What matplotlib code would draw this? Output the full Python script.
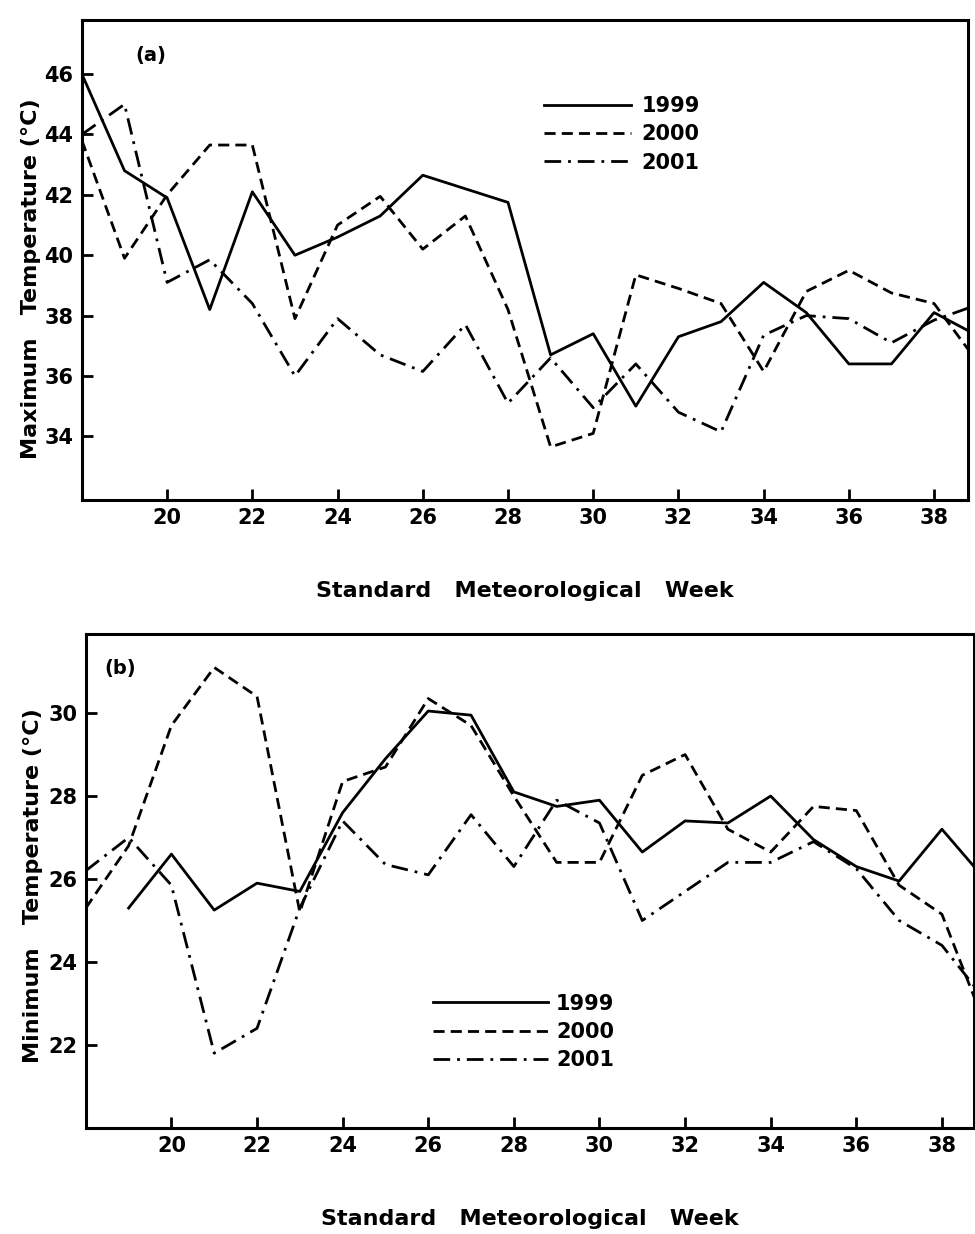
import matplotlib.pyplot as plt

weeks = list(range(18, 40))

# (a) maximum temperature
tmax_1999 = [46.0, 42.8, 41.9, 38.2, 42.1, 40.0, 40.6, 41.3, 42.65, 42.2, 41.75,
             36.7, 37.4, 35.0, 37.3, 37.8, 39.1, 38.1, 36.4, 36.4, 38.1, 37.35]
tmax_2000 = [43.8, 39.9, 42.0, 43.65, 43.65, 37.9, 41.0, 41.95, 40.2, 41.3, 38.2,
             33.65, 34.1, 39.35, 38.9, 38.4, 36.15, 38.8, 39.5, 38.75, 38.4, 36.5]
tmax_2001 = [44.0, 45.0, 39.1, 39.85, 38.4, 36.0, 37.9, 36.7, 36.15, 37.7, 35.1,
             36.6, 34.95, 36.4, 34.8, 34.15, 37.35, 38.0, 37.9, 37.1, 37.85, 38.35]

# (b) minimum temperature (1999 starts at week 19)
weeks_1999b = list(range(19, 40))
tmin_1999 = [25.3, 26.6, 25.25, 25.9, 25.7, 27.6, 28.9, 30.05, 29.95, 28.1,
             27.75, 27.9, 26.65, 27.4, 27.35, 28.0, 26.95, 26.3, 25.95, 27.2, 26.0]
tmin_2000 = [25.3, 26.8, 29.7, 31.1, 30.4, 25.2, 28.35, 28.7, 30.35, 29.7, 28.0,
             26.4, 26.4, 28.5, 29.0, 27.2, 26.65, 27.75, 27.65, 25.85, 25.15, 22.5]
tmin_2001 = [26.2, 27.0, 25.85, 21.8, 22.4, 25.3, 27.4, 26.35, 26.1, 27.55, 26.3,
             27.9, 27.35, 25.0, 25.7, 26.4, 26.4, 26.9, 26.25, 25.0, 24.4, 23.1]

years = ['1999', '2000', '2001']
styles = ['-', (0, (4, 2.2)), (0, (6, 2.5, 1, 2.5))]

plt.rcParams['font.family'] = 'DejaVu Sans'
plt.rcParams['font.weight'] = 'bold'

fig = plt.figure(figsize=(9.75, 12.34), dpi=100)
ax1 = fig.add_axes([0.084, 0.595, 0.909, 0.389])
ax2 = fig.add_axes([0.088, 0.086, 0.911, 0.400])

def style_axes(ax):
    for s in ax.spines.values():
        s.set_linewidth(2.2)
    ax.tick_params(direction='in', length=8, width=2, labelsize=15, pad=6)
    ax.set_xticks(range(20, 39, 2))
    ax.set_xlabel('Standard   Meteorological   Week', fontsize=16, fontweight='bold', labelpad=38)

lw = 2.0
h = []
for data, ls, yr in zip([tmax_1999, tmax_2000, tmax_2001], styles, years):
    line, = ax1.plot(weeks, data, color='black', linestyle=ls, linewidth=lw, label=yr)
    h.append(line)
ax1.set_xlim(18, 38.8)
ax1.set_ylim(31.9, 47.8)
ax1.set_yticks(range(34, 47, 2))
ax1.set_ylabel('Maximum   Temperature (°C)', fontsize=16, fontweight='bold')
style_axes(ax1)
ax1.yaxis.set_label_coords(-0.046, 0.46)
ax1.text(0.06, 0.925, '(a)', transform=ax1.transAxes, fontsize=14, fontweight='bold', va='center')
ax1.legend(handles=h, loc='upper left', bbox_to_anchor=(0.5, 0.88), frameon=False,
           fontsize=15, handlelength=4.2, handletextpad=0.5, labelspacing=0.4)

ax2.plot(weeks_1999b, tmin_1999, color='black', linestyle=styles[0], linewidth=lw, label=years[0])
ax2.plot(weeks, tmin_2000, color='black', linestyle=styles[1], linewidth=lw, label=years[1])
ax2.plot(weeks, tmin_2001, color='black', linestyle=styles[2], linewidth=lw, label=years[2])
ax2.set_xlim(18, 38.75)
ax2.set_ylim(20.0, 31.9)
ax2.set_yticks(range(22, 31, 2))
ax2.set_ylabel('Minimum   Temperature (°C)', fontsize=16, fontweight='bold')
style_axes(ax2)
ax2.yaxis.set_label_coords(-0.048, 0.49)
ax2.text(0.021, 0.931, '(b)', transform=ax2.transAxes, fontsize=14, fontweight='bold', va='center')
ax2.legend(loc='upper left', bbox_to_anchor=(0.37, 0.31), frameon=False,
           fontsize=15, handlelength=5.5, handletextpad=0.4, labelspacing=0.4)

fig.savefig('out.png', dpi=100)
